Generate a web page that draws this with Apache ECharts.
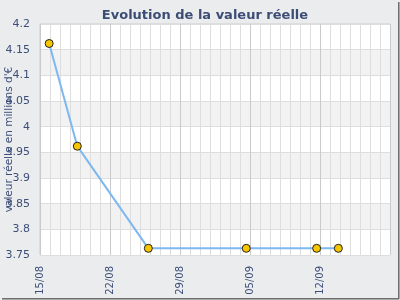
<!DOCTYPE html>
<html><head><meta charset="utf-8">
<script src="https://cdn.jsdelivr.net/npm/echarts@6/dist/echarts.min.js"></script>
<style>
html,body{margin:0;padding:0;background:#fff;overflow:hidden;width:400px;height:300px;}
#c{position:absolute;left:0;top:0;width:400px;height:360px;background:#ebecee;}
#sr{position:absolute;left:398px;top:2px;width:1px;height:297px;background:#6e6e6e;border-right:1px solid #a8a8a8;}
#sb{position:absolute;left:2px;top:298px;width:397px;height:1px;background:#6e6e6e;border-bottom:1px solid #a8a8a8;}
</style></head>
<body><div id="c"></div><div id="sr"></div><div id="sb"></div>
<script>
const title = "Evolution de la valeur réelle";
const yAxisName = "valeur réelle en millions d'€";
const pointDates = ["2011-08-15T22:00","2011-08-18T17:30","2011-08-25T20:00","2011-09-04T15:00","2011-09-11T16:00","2011-09-13T20:00"];
const values = [4.162, 3.962, 3.763, 3.763, 3.763, 3.763];
const axisStart = "2011-08-15T00:00";
const axisDays = 35;

const DAY = 86400000;
const t0 = new Date(axisStart).getTime();
const dayOffset = d => (new Date(d).getTime() - t0) / DAY;
const pad = n => (n < 10 ? '0' : '') + n;
const fmt = v => { const d = new Date(t0 + v * DAY); return pad(d.getDate()) + '/' + pad(d.getMonth() + 1); };

const labelColor = '#3d4f78';
const chart = echarts.init(document.getElementById('c'));
chart.setOption({
  animation: false,
  backgroundColor: 'transparent',
  title: { text: title, left: 200, textAlign: 'center', top: 4, textStyle: { fontFamily: 'DejaVu Sans', fontSize: 13, fontWeight: 'bold', color: '#3b4d75' } },
  grid: { left: 40, top: 24, width: 350, height: 231, containLabel: false, outerBoundsMode: 'none', show: true, borderColor: '#cfcfcf', borderWidth: 1, backgroundColor: '#fff' },
  xAxis: {
    type: 'value', min: 0, max: axisDays, interval: 7,
    axisLine: { show: false }, axisTick: { show: false },
    axisLabel: { show: true, rotate: 90, interval: 0, formatter: function (v) { return v < axisDays ? fmt(v) : ''; }, color: labelColor, fontFamily: 'DejaVu Sans', fontSize: 10, margin: 11 },
    splitLine: { show: true, lineStyle: { color: '#cacaca', width: 1 } },
    minorTick: { show: false, splitNumber: 7 },
    minorSplitLine: { show: true, lineStyle: { color: '#dedede', width: 1 } }
  },
  yAxis: {
    type: 'value', min: 3.75, max: 4.2, interval: 0.05,
    name: yAxisName, nameLocation: 'middle', nameGap: 25, nameMoveOverlap: false,
    nameTextStyle: { color: labelColor, fontFamily: 'DejaVu Sans', fontSize: 10.5 },
    axisLine: { show: false }, axisTick: { show: false },
    axisLabel: { formatter: v => String(Math.round(v * 100) / 100), color: labelColor, fontFamily: 'DejaVu Sans', fontSize: 11, margin: 10 },
    splitLine: { show: true, lineStyle: { color: '#dedede' } },
    splitArea: { show: true, areaStyle: { color: ['#ffffff', '#f2f2f2'] } }
  },
  series: [{
    type: 'line',
    data: pointDates.map((d, i) => [dayOffset(d), values[i]]),
    lineStyle: { color: '#7db8f0', width: 2 },
    symbol: 'circle', symbolSize: 8,
    itemStyle: { color: '#f7c600', borderColor: '#222', borderWidth: 1 },
    z: 5
  }]
});
</script></body></html>
